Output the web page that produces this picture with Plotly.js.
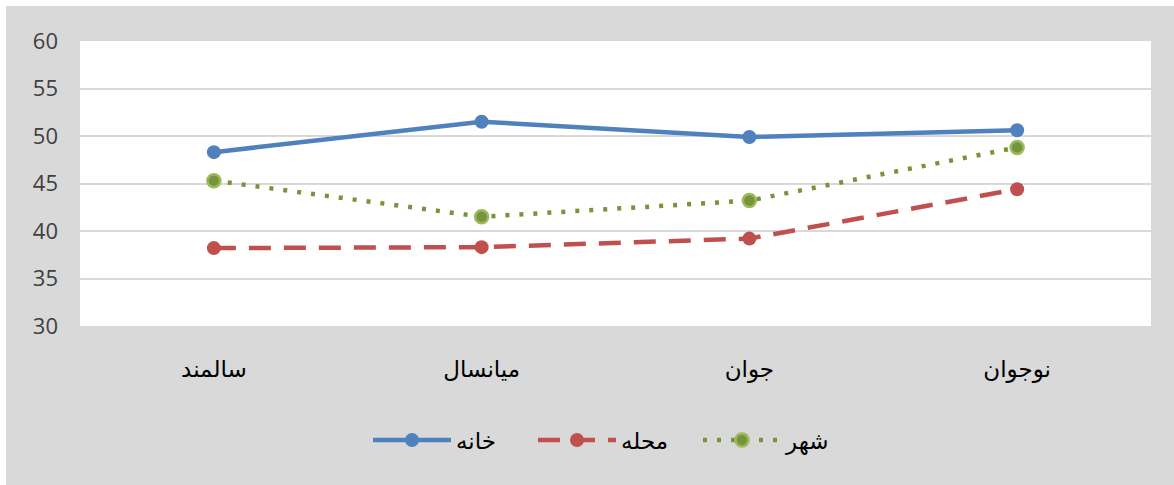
<!DOCTYPE html>
<html><head><meta charset="utf-8">
<script src="https://cdn.plot.ly/plotly-3.0.1.min.js"></script>
<style>html,body{margin:0;padding:0;background:#fff;}#chart{position:absolute;left:6px;top:6px;width:1168px;height:479px;}</style>
</head><body><div id="chart"></div>
<script>
const categories = ['سالمند', 'میانسال', 'جوان', 'نوجوان'];
const seriesNames = ['خانه', 'محله', 'شهر'];
const khaneh = [48.3, 51.5, 49.9, 50.6];
const mahalleh = [38.2, 38.3, 39.2, 44.4];
const shahr = [45.3, 41.5, 43.2, 48.8];
const yTicks = [30, 35, 40, 45, 50, 55, 60];

const traces = [
  {x: categories, y: khaneh, name: seriesNames[0], type: 'scatter', mode: 'lines+markers',
   line: {color: '#4f81bd', width: 4.5}, marker: {color: '#4f81bd', size: 14}},
  {x: categories, y: mahalleh, name: seriesNames[1], type: 'scatter', mode: 'lines+markers',
   line: {color: '#c0504d', width: 4.5, dash: '22px,13px'}, marker: {color: '#c0504d', size: 14}},
  {x: categories, y: shahr, name: seriesNames[2], type: 'scatter', mode: 'lines+markers',
   line: {color: '#77933c', width: 4.5, dash: '4px,10px'}, marker: {color: '#77933c', size: 13, line: {color: '#9bbb59', width: 2.5}}}
];

const layout = {
  width: 1168, height: 479,
  paper_bgcolor: '#d9d9d9', plot_bgcolor: '#ffffff',
  margin: {l: 74, r: 23, t: 34.5, b: 158.5},
  font: {family: 'Open Sans, DejaVu Sans, sans-serif', color: '#000'},
  xaxis: {type: 'category', range: [-0.5, 3.5], showgrid: false, zeroline: false, showline: false,
          ticks: '', tickfont: {size: 23, color: '#000', family: 'DejaVu Sans, sans-serif'}, ticklabelstandoff: 27},
  yaxis: {range: [30, 60], tickvals: yTicks, showgrid: true, gridcolor: '#d9d9d9', gridwidth: 2,
          zeroline: false, showline: false, ticks: '', tickfont: {size: 22, color: '#404040'}, ticklabelstandoff: 21},
  showlegend: true,
  legend: {orientation: 'h', x: 0.5, xanchor: 'center', y: -0.4, yanchor: 'middle',
           font: {size: 23, color: '#000', family: 'DejaVu Sans, sans-serif'}, bgcolor: 'rgba(0,0,0,0)',
           itemwidth: 78, entrywidth: 72, entrywidthmode: 'pixels'}
};

Plotly.newPlot('chart', traces, layout, {displayModeBar: false, staticPlot: true});
</script></body></html>
